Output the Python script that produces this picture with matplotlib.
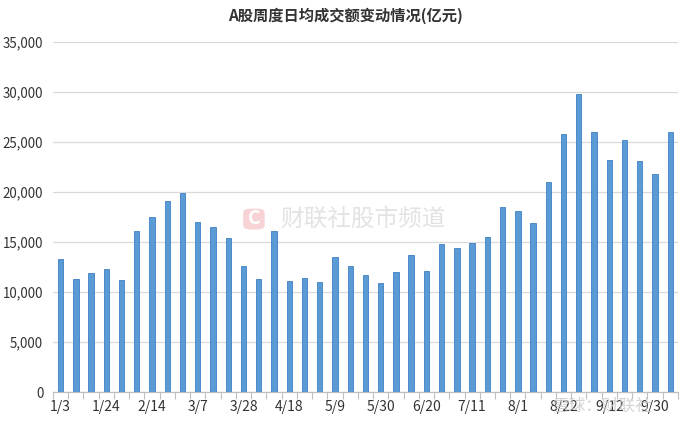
import matplotlib.pyplot as plt
from matplotlib.patches import FancyBboxPatch

plt.rcParams['font.family'] = ['Noto Sans CJK SC', 'DejaVu Sans']

# weekly dates (2025), every 3rd one is labelled on the axis
weeks = ['1/3', '1/10', '1/17', '1/24', '1/27', '2/7', '2/14', '2/21', '2/28',
         '3/7', '3/14', '3/21', '3/28', '4/3', '4/11', '4/18', '4/25', '4/30',
         '5/9', '5/16', '5/23', '5/30', '6/6', '6/13', '6/20', '6/27', '7/4',
         '7/11', '7/18', '7/25', '8/1', '8/8', '8/15', '8/22', '8/29', '9/5',
         '9/12', '9/19', '9/26', '9/30', '10/10']
# average daily turnover, 100 million yuan
turnover = [13300, 11330, 11930, 12300, 11200, 16100, 17500, 19100, 19900,
            16970, 16530, 15430, 12600, 11330, 16100, 11070, 11400, 11000,
            13470, 12600, 11700, 10900, 12000, 13730, 12100, 14800, 14370,
            14930, 15470, 18470, 18100, 16900, 21000, 25830, 29800, 26000,
            23200, 25200, 23100, 21800, 26000]
yticks = [0, 5000, 10000, 15000, 20000, 25000, 30000, 35000]

fig = plt.figure(figsize=(6.91, 4.25), dpi=100)
ax = fig.add_axes([0.0767, 0.0776, 0.9043, 0.8235])

x = list(range(len(weeks)))
ax.bar(x, turnover, width=0.35, color='#5b9bd5', edgecolor='#3f7fc4', linewidth=0.6, zorder=3)

ax.set_xlim(-0.5, len(weeks) - 0.5)
ax.set_ylim(0, 35000)
ax.set_yticks(yticks)
ax.set_yticklabels([f'{v:,}' for v in yticks])
ax.grid(axis='y', color='#d9d9d9', linewidth=0.9, zorder=0)

# category boundary ticks, labels every third week
ax.set_xticks([i - 0.5 for i in range(len(weeks) + 1)], minor=True)
ax.set_xticks(x[::3])
ax.set_xticklabels(weeks[::3])
ax.tick_params(axis='x', which='major', length=0, pad=6, labelsize=10, labelcolor='#333333')
ax.tick_params(axis='x', which='minor', length=5, color='#bfbfbf', width=0.8)
ax.tick_params(axis='y', length=0, pad=7, labelsize=9.6, labelcolor='#333333')
for lbl in ax.get_xticklabels() + ax.get_yticklabels():
    lbl.set_fontweight('medium')

for s in ['top', 'right', 'left']:
    ax.spines[s].set_visible(False)
ax.spines['bottom'].set_color('#bfbfbf')
ax.spines['bottom'].set_linewidth(0.9)

fig.text(0.5, 0.962, 'A股周度日均成交额变动情况(亿元)', ha='center', va='center',
         fontsize=11, fontweight='bold', color='#333333')

# watermarks
logo = FancyBboxPatch((0.354, 0.462), 0.027, 0.045, boxstyle='round,pad=0.002,rounding_size=0.01',
                      transform=fig.transFigure, facecolor='#f6c9cb', edgecolor='none', alpha=0.8, zorder=5)
fig.patches.append(logo)
fig.text(0.3675, 0.485, 'C', ha='center', va='center', fontsize=14, fontweight='bold', color='white', zorder=6)
fig.text(0.405, 0.485, '财联社股市频道', ha='left', va='center', fontsize=17, color='#e3e3e3', zorder=6)
fig.text(0.80, 0.045, '雪球：财联社', ha='left', va='center', fontsize=12, color='#c8c8c8', alpha=0.8, zorder=6)

fig.savefig('out.png', dpi=100)
